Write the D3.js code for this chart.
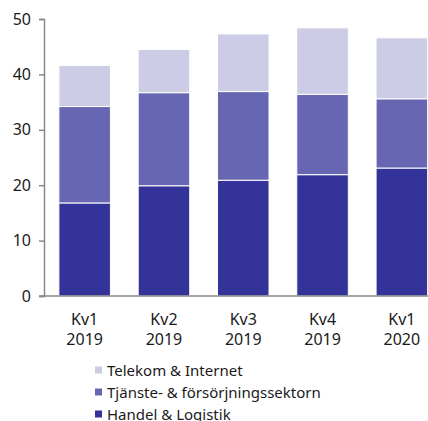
<!DOCTYPE html>
<html>
<head>
<meta charset="utf-8">
<script src="https://cdn.jsdelivr.net/npm/d3@7"></script>
<style>
  body { margin: 0; background: #fff; }
  text { font-family: "Noto Sans", sans-serif; fill: #1a1a1a; }
</style>
</head>
<body>
<div id="chart"></div>
<script>
const quarters = ["Kv1", "Kv2", "Kv3", "Kv4", "Kv1"];
const years = ["2019", "2019", "2019", "2019", "2020"];
const handel = [16.8, 19.9, 20.9, 21.9, 23.1];
const tjanste = [17.4, 16.8, 16.0, 14.5, 12.5];
const telekom = [7.4, 7.8, 10.4, 12.0, 11.0];
const seriesNames = ["Handel & Logistik", "Tjänste- & försörjningssektorn", "Telekom & Internet"];
const yTicks = [0, 10, 20, 30, 40, 50];

const colors = ["#343399", "#6766b3", "#cccce6"];
const width = 428, height = 421;
const margin = {top: 19, left: 44, bottom: 125};

const rows = quarters.map((q, i) => ({
    key: i,
    handel: handel[i],
    tjanste: tjanste[i],
    telekom: telekom[i]
}));
const stack = d3.stack().keys(["handel", "tjanste", "telekom"]);
const stacked = stack(rows);

const svg = d3.select("#chart").append("svg")
    .attr("width", width)
    .attr("height", height);

const x = d3.scaleBand()
    .domain(d3.range(quarters.length))
    .range([margin.left + 1, 441.5])
    .paddingInner(0.35)
    .paddingOuter(0.175);

const y = d3.scaleLinear()
    .domain([0, 50])
    .range([height - margin.bottom, margin.top]);

// bars
svg.append("g")
    .selectAll("g")
    .data(stacked)
    .enter()
    .append("g")
    .attr("fill", (d, i) => colors[i])
    .selectAll("rect")
    .data(d => d)
    .enter()
    .append("rect")
    .attr("x", (d, i) => x(i))
    .attr("width", x.bandwidth())
    .attr("y", d => y(d[1]))
    .attr("height", d => y(d[0]) - y(d[1]))
    .attr("stroke", "#fff")
    .attr("stroke-width", 1);

// y axis
const yAxis = svg.append("g")
    .attr("transform", `translate(${margin.left},0)`)
    .call(d3.axisLeft(y).tickValues(yTicks).tickSize(5).tickPadding(8));
yAxis.select(".domain").attr("stroke", "#888").attr("stroke-width", 1.5);
yAxis.selectAll(".tick line").attr("stroke", "#888").attr("stroke-width", 1.5);
yAxis.selectAll(".tick text").style("font-size", "16px").attr("fill", "#1a1a1a");

// x baseline
svg.append("line")
    .attr("x1", margin.left - 5)
    .attr("x2", width)
    .attr("y1", y(0))
    .attr("y2", y(0))
    .attr("stroke", "#888")
    .attr("stroke-width", 1.5);

// x labels
const xl = svg.append("g");
quarters.forEach((q, i) => {
    const cx = x(i) + x.bandwidth() / 2;
    xl.append("text")
        .attr("x", cx)
        .attr("y", 324.5)
        .attr("text-anchor", "middle")
        .style("font-size", "16px")
        .text(q);
    xl.append("text")
        .attr("x", cx)
        .attr("y", 344.5)
        .attr("text-anchor", "middle")
        .style("font-size", "16px")
        .text(years[i]);
});

// legend (reversed order)
const legend = svg.append("g");
const legendOrder = [2, 1, 0];
legendOrder.forEach((s, j) => {
    const ly = 370 + j * 22;
    legend.append("rect")
        .attr("x", 95)
        .attr("y", ly - 3.5)
        .attr("width", 7)
        .attr("height", 7)
        .attr("fill", colors[s]);
    legend.append("text")
        .attr("x", 107)
        .attr("y", ly + 5.5)
        .style("font-size", "15px")
        .text(seriesNames[s]);
});
</script>
</body>
</html>
